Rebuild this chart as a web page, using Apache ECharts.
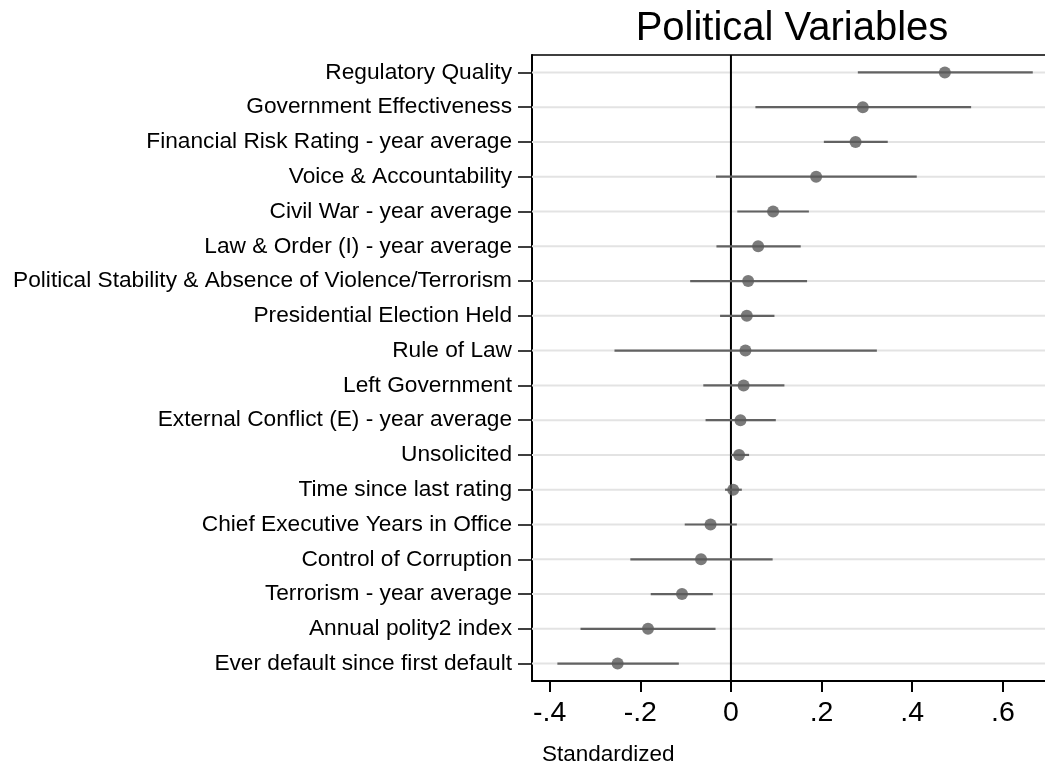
<!DOCTYPE html>
<html>
<head>
<meta charset="utf-8">
<title>Political Variables</title>
<script src="https://cdn.jsdelivr.net/npm/echarts@6/dist/echarts.min.js"></script>
<style>
  html, body { margin: 0; padding: 0; background: #ffffff; overflow: hidden; }
  #chart { width: 1045px; height: 765px; }
</style>
</head>
<body>
<div id="chart"></div>
<script>
// Variables, top to bottom
var categories = [
  'Regulatory Quality',
  'Government Effectiveness',
  'Financial Risk Rating - year average',
  'Voice & Accountability',
  'Civil War - year average',
  'Law & Order (I) - year average',
  'Political Stability & Absence of Violence/Terrorism',
  'Presidential Election Held',
  'Rule of Law',
  'Left Government',
  'External Conflict (E) - year average',
  'Unsolicited',
  'Time since last rating',
  'Chief Executive Years in Office',
  'Control of Corruption',
  'Terrorism - year average',
  'Annual polity2 index',
  'Ever default since first default'
];

// Standardized point estimates
var estimates = [0.472, 0.291, 0.275, 0.188, 0.093, 0.060, 0.038, 0.035, 0.032,
                 0.028, 0.021, 0.018, 0.005, -0.045, -0.066, -0.108, -0.183, -0.250];

// Confidence interval bounds
var lower = [0.280, 0.054, 0.205, -0.033, 0.014, -0.032, -0.090, -0.024, -0.257,
             -0.061, -0.056, 0.000, -0.013, -0.102, -0.222, -0.177, -0.332, -0.383];
var upper = [0.666, 0.530, 0.346, 0.410, 0.172, 0.154, 0.168, 0.096, 0.322,
             0.118, 0.099, 0.040, 0.024, 0.013, 0.092, -0.040, -0.034, -0.115];

// Tick positions on the value axis
var xTicks = [-0.4, -0.2, 0, 0.2, 0.4, 0.6];

// Reference value marked with a vertical line
var refLine = [0];

function tickText(v) {
  if (Math.abs(v) < 1e-9) return '0';
  var s = String(Math.round(v * 10) / 10);
  return s.replace('0.', '.');
}

var font = 'Liberation Sans, Arial, Helvetica, sans-serif';
var chart = echarts.init(document.getElementById('chart'), null, { renderer: 'canvas' });

var rowIndex = categories.map(function (c, i) { return i; });

var xMin = -0.439;
var xMax = 0.693;

var option = {
  backgroundColor: '#ffffff',
  animation: false,
  title: [
    {
      text: 'Political Variables',
      left: 787,
      top: 4,
      textAlign: 'center',
      textStyle: { fontFamily: font, fontSize: 40, fontWeight: 'normal', color: '#000000' }
    },
    {
      text: 'Standardized',
      left: 537,
      top: 738,
      textStyle: { fontFamily: font, fontSize: 22.5, fontWeight: 'normal', color: '#000000' }
    }
  ],
  grid: {
    left: 532,
    top: 55,
    right: 0,
    height: 626,
    show: false
  },
  xAxis: [
    {
      type: 'value',
      position: 'bottom',
      min: xMin,
      max: xMax,
      axisLine: { show: true, onZero: false, lineStyle: { color: '#000000', width: 2 } },
      axisTick: {
        show: true,
        length: 11,
        customValues: xTicks,
        lineStyle: { color: '#000000', width: 2 }
      },
      axisLabel: {
        show: true,
        customValues: xTicks,
        formatter: tickText,
        fontFamily: font,
        fontSize: 28.5,
        color: '#000000',
        margin: 18
      },
      splitLine: { show: false }
    },
    {
      // top frame line
      type: 'value',
      position: 'top',
      min: xMin,
      max: xMax,
      axisLine: { show: true, onZero: false, lineStyle: { color: '#000000', width: 1.5 } },
      axisTick: { show: false },
      axisLabel: { show: false },
      splitLine: { show: false }
    }
  ],
  yAxis: {
    type: 'category',
    data: categories,
    inverse: true,
    boundaryGap: true,
    axisLine: { show: true, onZero: false, lineStyle: { color: '#000000', width: 2 } },
    axisTick: {
      show: true,
      alignWithLabel: true,
      length: 14,
      lineStyle: { color: '#000000', width: 1.5 }
    },
    axisLabel: {
      fontFamily: font,
      fontSize: 22.7,
      color: '#000000',
      margin: 20
    },
    splitLine: { show: false }
  },
  series: [
    {
      // light horizontal guide line for every row
      type: 'custom',
      z: 1,
      silent: true,
      data: rowIndex.map(function (i) { return [0, i]; }),
      encode: { x: 0, y: 1 },
      renderItem: function (params, api) {
        var cs = params.coordSys;
        var y = api.coord([0, api.value(1)])[1];
        return {
          type: 'line',
          shape: { x1: cs.x, y1: y, x2: cs.x + cs.width, y2: y },
          style: { stroke: '#e3e3e3', lineWidth: 2 }
        };
      }
    },
    {
      // vertical reference line at zero
      type: 'custom',
      z: 2,
      silent: true,
      data: refLine.map(function (v) { return [v, 0]; }),
      encode: { x: 0, y: 1 },
      renderItem: function (params, api) {
        var cs = params.coordSys;
        var x = api.coord([api.value(0), 0])[0];
        return {
          type: 'line',
          shape: { x1: x, y1: cs.y, x2: x, y2: cs.y + cs.height },
          style: { stroke: '#000000', lineWidth: 2 }
        };
      }
    },
    {
      // confidence intervals
      type: 'custom',
      z: 3,
      silent: true,
      data: rowIndex.map(function (i) { return [lower[i], upper[i], i]; }),
      encode: { x: [0, 1], y: 2 },
      renderItem: function (params, api) {
        var p1 = api.coord([api.value(0), api.value(2)]);
        var p2 = api.coord([api.value(1), api.value(2)]);
        return {
          type: 'line',
          shape: { x1: p1[0], y1: p1[1], x2: p2[0], y2: p2[1] },
          style: { stroke: '#626262', lineWidth: 2.2 }
        };
      }
    },
    {
      // point estimates
      type: 'scatter',
      z: 4,
      symbol: 'circle',
      symbolSize: 12,
      itemStyle: { color: '#5a5a5a' },
      data: rowIndex.map(function (i) { return [estimates[i], i]; })
    }
  ]
};

chart.setOption(option);
</script>
</body>
</html>
